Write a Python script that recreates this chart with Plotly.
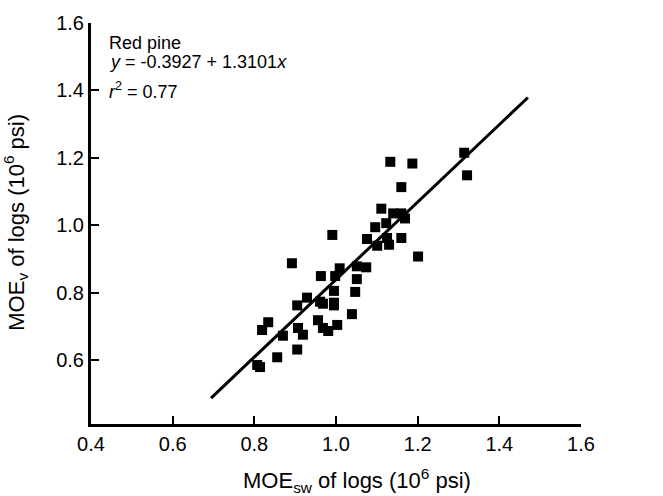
import plotly.graph_objects as go

# Scatter data: MOE_sw (x) vs MOE_v (y) of red pine logs, 10^6 psi
moe_sw = [1.314, 1.321, 1.133, 1.187, 1.160, 1.111, 1.140, 1.160, 1.169, 1.096,
          1.123, 0.991, 1.076, 1.125, 1.130, 1.160, 1.101, 1.201, 0.892, 1.009,
          1.051, 1.074, 0.963, 0.998, 1.051, 0.995, 1.047, 0.929, 0.905, 0.961,
          0.968, 0.995, 0.995, 1.039, 0.834, 0.819, 0.956, 0.968, 0.981, 1.003,
          0.907, 0.919, 0.870, 0.905, 0.856, 0.807, 0.814]
moe_v = [1.215, 1.148, 1.188, 1.183, 1.113, 1.049, 1.035, 1.035, 1.020, 0.994,
         1.006, 0.971, 0.959, 0.962, 0.942, 0.962, 0.939, 0.907, 0.887, 0.872,
         0.878, 0.875, 0.849, 0.849, 0.840, 0.805, 0.802, 0.785, 0.762, 0.773,
         0.767, 0.770, 0.762, 0.736, 0.712, 0.689, 0.718, 0.695, 0.686, 0.704,
         0.695, 0.675, 0.672, 0.631, 0.608, 0.585, 0.579]

# Fitted regression line as drawn
fit_x = [0.694, 1.470]
fit_y = [0.487, 1.379]

x_ticks = [0.4, 0.6, 0.8, 1.0, 1.2, 1.4, 1.6]
y_ticks = [0.6, 0.8, 1.0, 1.2, 1.4, 1.6]

FONT = "Arial, Liberation Sans, Helvetica, sans-serif"

fig = go.Figure()
fig.add_trace(go.Scatter(x=fit_x, y=fit_y, mode="lines",
                         line=dict(color="black", width=3), showlegend=False))
fig.add_trace(go.Scatter(x=moe_sw, y=moe_v, mode="markers",
                         marker=dict(symbol="square", size=10, color="black",
                                     line=dict(width=0)),
                         showlegend=False))

axis_common = dict(showline=True, linecolor="black", linewidth=3,
                   ticks="inside", ticklen=8, tickwidth=2, tickcolor="black",
                   showgrid=False, zeroline=False,
                   tickfont=dict(family=FONT, size=20, color="black"),
                   tickformat=".1f")

fig.update_layout(
    width=663, height=496,
    margin=dict(l=91, r=82, t=14, b=72),
    paper_bgcolor="white", plot_bgcolor="white",
    font=dict(family=FONT, color="black"),
    xaxis=dict(range=[0.4, 1.6], tickvals=x_ticks, **axis_common),
    yaxis=dict(range=[0.41, 1.6], tickvals=y_ticks, **axis_common),
    annotations=[
        dict(text="Red pine", xref="paper", yref="paper", x=0.034, y=0.978,
             xanchor="left", yanchor="top", showarrow=False, borderpad=0,
             font=dict(size=18, family=FONT)),
        dict(text="<i>y</i> = -0.3927 + 1.3101<i>x</i>", xref="paper", yref="paper",
             x=0.034, y=0.930, xanchor="left", yanchor="top", showarrow=False, borderpad=0,
             font=dict(size=18, family=FONT)),
        dict(text="<i>r</i><sup>2</sup> = 0.77", xref="paper", yref="paper",
             x=0.034, y=0.864, xanchor="left", yanchor="top", showarrow=False, borderpad=0,
             font=dict(size=18, family=FONT)),
        dict(text="MOE<sub>sw</sub> of logs (10<sup>6</sup> psi)", xref="paper", yref="paper",
             x=0.543, y=-0.141, xanchor="center", yanchor="middle", showarrow=False,
             font=dict(size=22, family=FONT)),
        dict(text="MOE<sub>v</sub> of logs (10<sup>6</sup> psi)", xref="paper", yref="paper",
             x=-0.153, y=0.502, xanchor="center", yanchor="middle", showarrow=False,
             textangle=-90, font=dict(size=22, family=FONT)),
    ],
)

fig.write_html("out.html", config={"displayModeBar": False},
               post_script="document.body.style.margin='0';document.body.style.overflow='hidden';")
